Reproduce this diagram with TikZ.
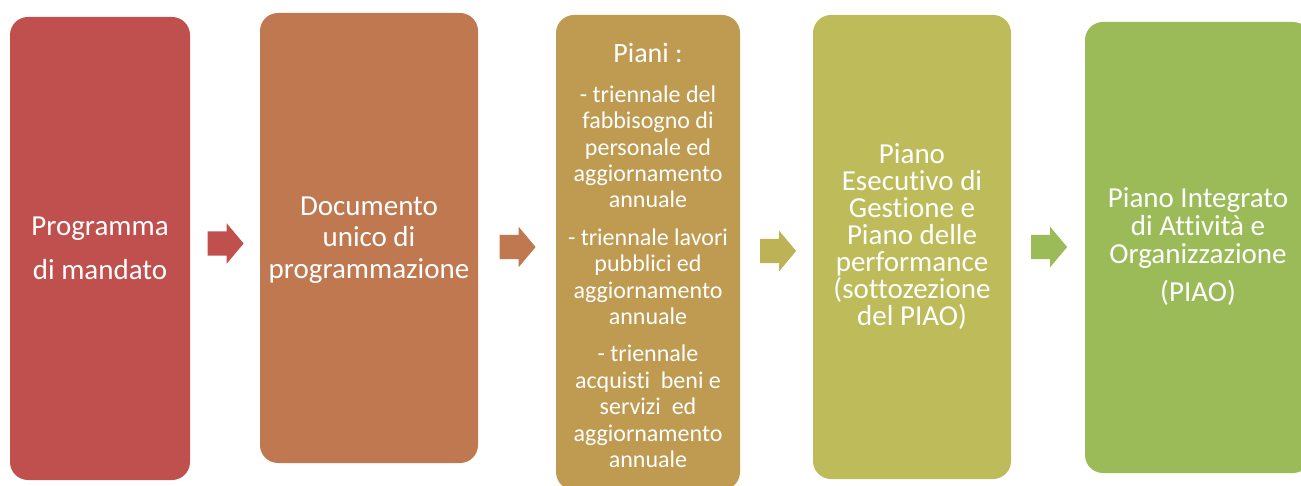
\documentclass[tikz,border=0pt]{standalone}
\usepackage{fontspec}
\setmainfont{Carlito}[Ligatures={NoCommon,NoContextual}]
\usetikzlibrary{shapes.arrows}
\definecolor{cA}{HTML}{C0504D}
\definecolor{cB}{HTML}{C07850}
\definecolor{cC}{HTML}{BF9B52}
\definecolor{cD}{HTML}{BEBB5A}
\definecolor{cE}{HTML}{9BBB59}
\definecolor{aC}{HTML}{BEB257}
\tikzset{
  stagebox/.style={rectangle, rounded corners=18pt, draw=none, inner sep=0pt},
  stagetext/.style={anchor=north, align=center, text=white, inner sep=0pt},
  flowarrow/.style={single arrow, draw=none, inner xsep=0pt, inner ysep=12pt, minimum height=36pt,
    single arrow head extend=8pt, single arrow tip angle=100},
}
\newcommand{\toprule}{\rule{0pt}{23pt}}
\begin{document}
\begin{tikzpicture}[x=1pt,y=-1pt]
\useasboundingbox (0,0) rectangle (1301,486);
% boxes
\node[stagebox, fill=cA, minimum width=180pt, minimum height=463pt] (b1) at (100,248.5) {};
\node[stagebox, fill=cB, minimum width=218pt, minimum height=450pt] (b2) at (369,238) {};
\node[stagebox, fill=cC, minimum width=184pt, minimum height=475pt] (b3) at (648,252.5) {};
\node[stagebox, fill=cD, minimum width=198pt, minimum height=464pt] (b4) at (912,247) {};
\node[stagebox, fill=cE, minimum width=226pt, minimum height=451pt] (b5) at (1198,247.5) {};
% texts
\node[stagetext, font=\fontsize{29}{44}\selectfont] (t1) at (100,212) {\toprule Programma\\di mandato};
\node[stagetext, font=\fontsize{29}{31.5}\selectfont] (t2) at (369,192) {\toprule Documento\\unico di\\programmazione};
\node[stagetext, font=\fontsize{24}{26.4}\selectfont] (t3) at (648,39) {\toprule{\fontsize{28}{30}\selectfont Piani :}\\[13.6pt]
- triennale del\\fabbisogno di\\personale ed\\aggiornamento\\annuale\\[11pt]
- triennale lavori\\pubblici ed\\aggiornamento\\annuale\\[11pt]
- triennale\\acquisti~ beni e\\servizi~ ed\\aggiornamento\\annuale};
\node[stagetext, font=\fontsize{29}{27}\selectfont] (t4) at (912,140) {\toprule Piano\\Esecutivo di\\Gestione e\\Piano delle\\performance\\(sottozezione\\del PIAO)};
\node[stagetext, font=\fontsize{29}{28}\selectfont] (t5) at (1198,184) {\toprule Piano Integrato\\di Attività e\\Organizzazione\\[10pt](PIAO)};
% arrows
\node[flowarrow, fill=cA] (a1) at (220.5,243.5) {};
\node[flowarrow, fill=cB] (a2) at (512.5,247) {};
\node[flowarrow, fill=aC] (a3) at (773,251) {};
\node[flowarrow, fill=cE] (a4) at (1044,247) {};
\end{tikzpicture}
\end{document}
